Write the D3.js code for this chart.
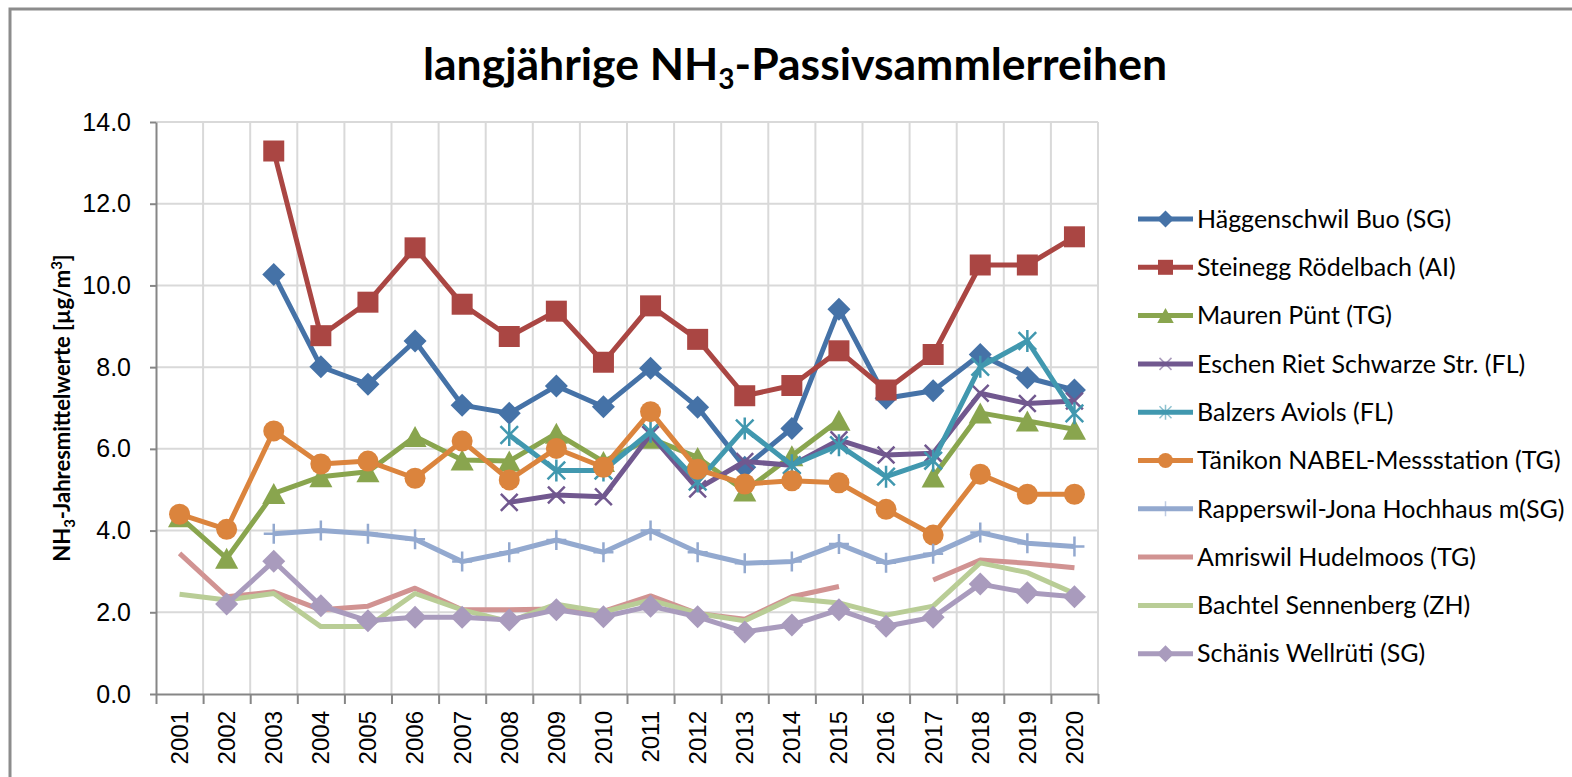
<!DOCTYPE html>
<meta charset='utf-8'>
<html>
<head>
<script src="https://d3js.org/d3.v7.min.js" charset="utf-8"></script>
<style>
  body { margin: 0; background: #fff; }
  svg { display: block; }
</style>
</head>
<body>
<div id="chart-container"></div>
<script>
// years on the x axis
const years = ['2001','2002','2003','2004','2005','2006','2007','2008','2009','2010',
               '2011','2012','2013','2014','2015','2016','2017','2018','2019','2020'];

// y axis ticks
const yTicks = [0, 2, 4, 6, 8, 10, 12, 14];

const haeggenschwil = [null,null,10.27,8.01,7.58,8.64,7.07,6.87,7.54,7.03,7.97,7.02,5.55,6.50,9.42,7.24,7.42,8.31,7.74,7.44];
const steinegg      = [null,null,13.29,8.77,9.59,10.92,9.54,8.75,9.37,8.12,9.50,8.68,7.30,7.55,8.40,7.44,8.31,10.50,10.50,11.19];
const mauren        = [4.34,3.32,4.91,5.32,5.44,6.30,5.73,5.70,6.38,5.69,6.26,5.79,4.97,5.83,6.70,null,5.31,6.88,6.68,6.48];
const eschen        = [null,null,null,null,null,null,null,4.69,4.87,4.83,6.35,5.02,5.69,5.60,6.22,5.85,5.89,7.36,7.11,7.17];
const balzers       = [null,null,null,null,null,null,null,6.34,5.47,5.47,6.42,5.20,6.50,5.60,6.09,5.32,5.71,8.01,8.64,6.87];
const taenikon      = [4.40,4.03,6.44,5.63,5.70,5.28,6.19,5.24,6.01,5.55,6.91,5.50,5.14,5.22,5.17,4.52,3.89,5.38,4.89,4.89];
const rapperswil    = [null,null,3.92,4.00,3.92,3.79,3.24,3.47,3.77,3.47,4.00,3.47,3.20,3.24,3.67,3.21,3.43,3.95,3.69,3.61];
const amriswil      = [3.44,2.38,2.50,2.06,2.15,2.59,2.06,2.06,2.08,2.02,2.40,1.97,1.83,2.38,2.63,null,2.79,3.28,3.20,3.09];
const bachtel       = [2.44,2.30,2.46,1.65,1.65,2.46,2.06,1.77,2.20,2.01,2.30,1.97,1.79,2.34,2.23,1.93,2.15,3.21,2.97,2.46];
const schaenis      = [null,2.20,3.25,2.16,1.79,1.88,1.88,1.81,2.06,1.89,2.15,1.89,1.52,1.69,2.06,1.66,1.88,2.69,2.48,2.38];

const seriesNames = ['Häggenschwil Buo (SG)', 'Steinegg Rödelbach (AI)', 'Mauren Pünt (TG)',
  'Eschen Riet Schwarze Str. (FL)', 'Balzers Aviols (FL)', 'Tänikon NABEL-Messstation (TG)',
  'Rapperswil-Jona Hochhaus m(SG)', 'Amriswil Hudelmoos (TG)', 'Bachtel Sennenberg (ZH)', 'Schänis Wellrüti (SG)'];
const seriesValues = [haeggenschwil, steinegg, mauren, eschen, balzers, taenikon, rapperswil, amriswil, bachtel, schaenis];
const seriesColors = ['#4572A7','#AA4643','#89A54E','#71588F','#4198AF','#DB843D','#93A9CF','#D19392','#B9CD96','#A99BBD'];
const seriesMarkers = ['diamond','square','triangle','x','asterisk','circle','plus','none','none','diamond'];

// overall dimensions
const svgWidth = 1572;
const svgHeight = 777;
const plot = {left: 156, top: 122, right: 1098, bottom: 694};

const svg = d3.select('#chart-container').append('svg')
  .attr('width', svgWidth).attr('height', svgHeight);

svg.append('rect').attr('width', svgWidth).attr('height', svgHeight).attr('fill', '#fff');

// outer chart frame (runs off the right and bottom edge)
svg.append('rect')
  .attr('x', 10).attr('y', 9).attr('width', 1700).attr('height', 900)
  .attr('fill', 'none').attr('stroke', '#8c8c8c').attr('stroke-width', 3);

// scales
const x = d3.scaleBand().domain(years).range([plot.left, plot.right]).padding(0);
const xEdge = d3.scaleLinear().domain([0, years.length]).range([plot.left, plot.right]);
const y = d3.scaleLinear().domain([0, 14]).range([plot.bottom, plot.top]);
const cx = d => x(d) + x.bandwidth() / 2;

// grid
const grid = svg.append('g');
grid.selectAll('.hgrid').data(yTicks.slice(1)).enter().append('line')
  .attr('x1', plot.left).attr('x2', plot.right)
  .attr('y1', d => y(d)).attr('y2', d => y(d))
  .attr('stroke', '#d9d9d9').attr('stroke-width', 2);
grid.selectAll('.vgrid').data(d3.range(1, years.length + 1)).enter().append('line')
  .attr('x1', d => xEdge(d)).attr('x2', d => xEdge(d))
  .attr('y1', plot.top).attr('y2', plot.bottom)
  .attr('stroke', '#d9d9d9').attr('stroke-width', 2);

// y axis
const yAxis = svg.append('g')
  .attr('transform', 'translate(' + plot.left + ',0)')
  .call(d3.axisLeft(y).tickValues(yTicks).tickFormat(d3.format('.1f')).tickSize(6).tickSizeOuter(0).tickPadding(19));
yAxis.select('.domain').attr('stroke', '#868686').attr('stroke-width', 2);
yAxis.selectAll('.tick line').attr('stroke', '#868686').attr('stroke-width', 2);
yAxis.selectAll('text')
  .style('font-family', '"Liberation Sans", Arial, sans-serif')
  .style('font-size', '25px').attr('fill', '#000');

// x axis: tick marks between categories
const xTickAxis = svg.append('g')
  .attr('transform', 'translate(0,' + plot.bottom + ')')
  .call(d3.axisBottom(xEdge).tickValues(d3.range(0, years.length + 1)).tickFormat('').tickSize(10).tickSizeOuter(0));
xTickAxis.select('.domain').attr('stroke', '#868686').attr('stroke-width', 2);
xTickAxis.selectAll('.tick line').attr('stroke', '#868686').attr('stroke-width', 2);

// x axis: rotated year labels
const xLabelAxis = svg.append('g')
  .attr('transform', 'translate(0,' + plot.bottom + ')')
  .call(d3.axisBottom(x).tickSize(0).tickPadding(0));
xLabelAxis.select('.domain').remove();
xLabelAxis.selectAll('text')
  .attr('transform', 'translate(0,17) rotate(-90)')
  .attr('y', 0).attr('dy', '0.35em')
  .style('text-anchor', 'end')
  .style('font-family', '"Liberation Sans", Arial, sans-serif')
  .style('font-size', '24px').attr('fill', '#000');

// marker shapes
function markerPath(type, s) {
  const h = s / 2;
  if (type === 'diamond') return 'M0,' + (-h) + 'L' + h + ',0L0,' + h + 'L' + (-h) + ',0Z';
  if (type === 'square') return d3.symbol().type(d3.symbolSquare).size(s * s)();
  if (type === 'circle') return d3.symbol().type(d3.symbolCircle).size(Math.PI * h * h)();
  if (type === 'triangle') return 'M0,' + (-h) + 'L' + (h * 1.1) + ',' + h + 'L' + (-h * 1.1) + ',' + h + 'Z';
  const k = h * 0.8;
  if (type === 'x') return 'M' + (-k) + ',' + (-k) + 'L' + k + ',' + k + 'M' + (-k) + ',' + k + 'L' + k + ',' + (-k);
  if (type === 'asterisk') return 'M' + (-k) + ',' + (-k) + 'L' + k + ',' + k + 'M' + (-k) + ',' + k + 'L' + k + ',' + (-k) + 'M0,' + (-h) + 'L0,' + h;
  if (type === 'plus') return 'M0,' + (-h) + 'L0,' + h + 'M' + (-h) + ',0L' + h + ',0';
  return '';
}
const strokeMarker = t => t === 'x' || t === 'asterisk' || t === 'plus';
const markerSize = {diamond: 23, square: 21, triangle: 21, circle: 21, x: 21, asterisk: 22, plus: 20, none: 0};

// series lines and markers
const line = d3.line()
  .defined(d => d.v != null)
  .x(d => cx(d.year))
  .y(d => y(d.v));

seriesValues.forEach((vals, i) => {
  const pts = years.map((yr, j) => ({year: yr, v: vals[j]}));
  const g = svg.append('g');
  g.append('path').datum(pts)
    .attr('d', line)
    .attr('fill', 'none')
    .attr('stroke', seriesColors[i])
    .attr('stroke-width', 5)
    .attr('stroke-linejoin', 'round');
  const t = seriesMarkers[i];
  if (t === 'none') return;
  g.selectAll('.m').data(pts.filter(d => d.v != null)).enter().append('path')
    .attr('transform', d => 'translate(' + cx(d.year) + ',' + y(d.v) + ')')
    .attr('d', markerPath(t, markerSize[t]))
    .attr('fill', strokeMarker(t) ? 'none' : seriesColors[i])
    .attr('stroke', seriesColors[i])
    .attr('stroke-width', strokeMarker(t) ? 2.5 : 0);
});

// title
const title = svg.append('text')
  .attr('x', 795).attr('y', 80)
  .attr('text-anchor', 'middle')
  .style('font-family', 'Lato, "Open Sans", sans-serif')
  .style('font-weight', 'bold')
  .style('font-size', '44.5px');
title.append('tspan').text('langjährige NH');
title.append('tspan').attr('dy', 9).style('font-size', '28px').text('3');
title.append('tspan').attr('dy', -9).text('-Passivsammlerreihen');

// y axis title
const yTitle = svg.append('text')
  .attr('transform', 'translate(70,' + ((plot.top + plot.bottom) / 2) + ') rotate(-90)')
  .attr('text-anchor', 'middle')
  .style('font-family', 'Lato, "Open Sans", sans-serif')
  .style('font-weight', 'bold')
  .style('font-size', '22px');
yTitle.append('tspan').text('NH');
yTitle.append('tspan').attr('dy', 5).style('font-size', '15px').text('3');
yTitle.append('tspan').attr('dy', -5).text('-Jahresmittelwerte [µg/m');
yTitle.append('tspan').attr('dy', -8).style('font-size', '15px').text('3');
yTitle.append('tspan').attr('dy', 8).text(']');

// legend
const legend = svg.append('g').attr('transform', 'translate(1138,219)');
seriesNames.forEach((name, i) => {
  const row = legend.append('g').attr('transform', 'translate(0,' + (i * 48.3) + ')');
  row.append('line').attr('x1', 0).attr('x2', 55).attr('y1', 0).attr('y2', 0)
    .attr('stroke', seriesColors[i]).attr('stroke-width', 5);
  const t = seriesMarkers[i];
  if (t !== 'none') {
    row.append('path')
      .attr('transform', 'translate(27.5,0)')
      .attr('d', markerPath(t, t === 'diamond' ? 17 : 15))
      .attr('fill', strokeMarker(t) ? 'none' : seriesColors[i])
      .attr('stroke', seriesColors[i])
      .attr('stroke-opacity', strokeMarker(t) ? 0.6 : 1)
      .attr('stroke-width', strokeMarker(t) ? 1.5 : 0);
  }
  row.append('text').attr('x', 59).attr('dy', '0.35em')
    .style('font-family', 'Lato, "Open Sans", sans-serif')
    .style('font-size', '25px')
    .text(name);
});
</script>
</body>
</html>
